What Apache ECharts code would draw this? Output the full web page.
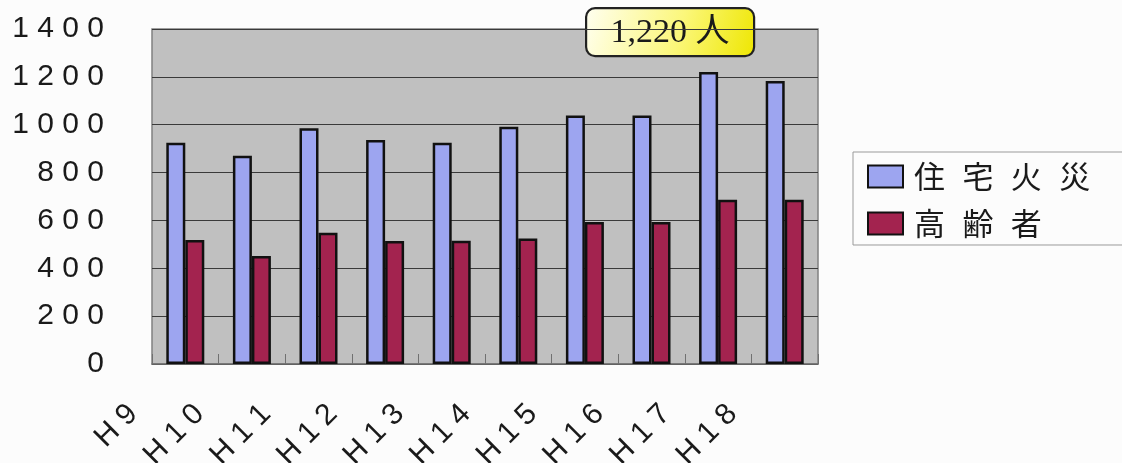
<!DOCTYPE html>
<html><head><meta charset="utf-8">
<script src="https://cdn.jsdelivr.net/npm/echarts@6/dist/echarts.min.js"></script>
<style>html,body{margin:0;padding:0;background:#fcfcfc;}#c{width:1122px;height:463px;}</style>
</head><body><div id="c"></div>
<script>
const categories = ['H9','H10','H11','H12','H13','H14','H15','H16','H17','H18'];
const housingFires = [925, 870, 985, 936, 925, 992, 1038, 1038, 1220, 1183];
const elderly = [518, 451, 549, 514, 515, 525, 593, 593, 686, 686];
const seriesNames = ['住宅火災', '高齢者'];
const yTicks = [0, 200, 400, 600, 800, 1000, 1200, 1400];
const calloutIndex = 8;
const calloutUnit = '人';

const spaced = (s, sep) => String(s).split('').join(sep);
const chart = echarts.init(document.getElementById('c'), null, {renderer: 'canvas'});
const calloutText = housingFires[calloutIndex].toLocaleString('en-US') + ' ' + calloutUnit;

chart.setOption({
  backgroundColor: '#fcfcfc',
  animation: false,
  grid: {left: 152, right: 304, top: 29, bottom: 99, containLabel: false, outerBoundsMode: 'none', show: true, backgroundColor: '#c0c0c0', borderColor: '#808080', borderWidth: 1.5},
  xAxis: {
    type: 'category', data: categories,
    axisLine: {show: true, lineStyle: {color: '#707070', width: 1.5}},
    axisTick: {show: true, inside: true, length: 10, lineStyle: {color: '#707070', width: 1}},
    axisLabel: {rotate: 45, margin: -7, padding: [0, 74, 0, 0], fontSize: 30, color: '#1a1a1a', fontFamily: 'Liberation Sans', formatter: v => spaced(v, ' ')}
  },
  yAxis: {
    type: 'value', min: yTicks[0], max: yTicks[yTicks.length - 1], interval: 200,
    axisLine: {show: false}, axisTick: {show: false},
    splitLine: {lineStyle: {color: '#3a3a3a', width: 1}},
    axisLabel: {margin: 48, fontSize: 30, color: '#1a1a1a', fontFamily: 'Liberation Sans', formatter: v => spaced(v, ' ')}
  },
  legend: {
    orient: 'vertical', left: 853, top: 152,
    padding: [9, 40, 6, 14], itemGap: 16,
    borderColor: '#9a9a9a', borderWidth: 1, backgroundColor: '#fcfcfc',
    itemWidth: 35, itemHeight: 22, icon: 'rect',
    textStyle: {fontSize: 31, color: '#1a1a1a', fontFamily: 'Noto Sans CJK JP', padding: [0, 0, 0, 6]},
    formatter: n => spaced(n, '\u2002\u200a'),
    data: seriesNames
  },
  series: [
    {name: seriesNames[0], type: 'bar', data: housingFires, barWidth: 19, barGap: '0%',
     itemStyle: {color: '#9da5f0', borderColor: '#111', borderWidth: 2.5}},
    {name: seriesNames[1], type: 'bar', data: elderly, barWidth: 19,
     itemStyle: {color: '#a3234f', borderColor: '#111', borderWidth: 2.5}}
  ],
  graphic: [{
    type: 'group', left: 585, top: 7,
    children: [
      {type: 'rect', shape: {x: 0, y: 0, width: 168, height: 48, r: 9},
       style: {fill: new echarts.graphic.LinearGradient(0, 0, 1, 1, [{offset: 0, color: '#fffff2'}, {offset: 0.55, color: '#fbf77a'}, {offset: 1, color: '#eee600'}]), stroke: '#222', lineWidth: 2.2}},
      {type: 'text', x: 84, y: 25, style: {text: calloutText, fontSize: 34, fontFamily: 'Liberation Serif, Noto Sans CJK JP', fill: '#1a1a1a', textAlign: 'center', textVerticalAlign: 'middle'}}
    ]
  }]
});
</script></body></html>
